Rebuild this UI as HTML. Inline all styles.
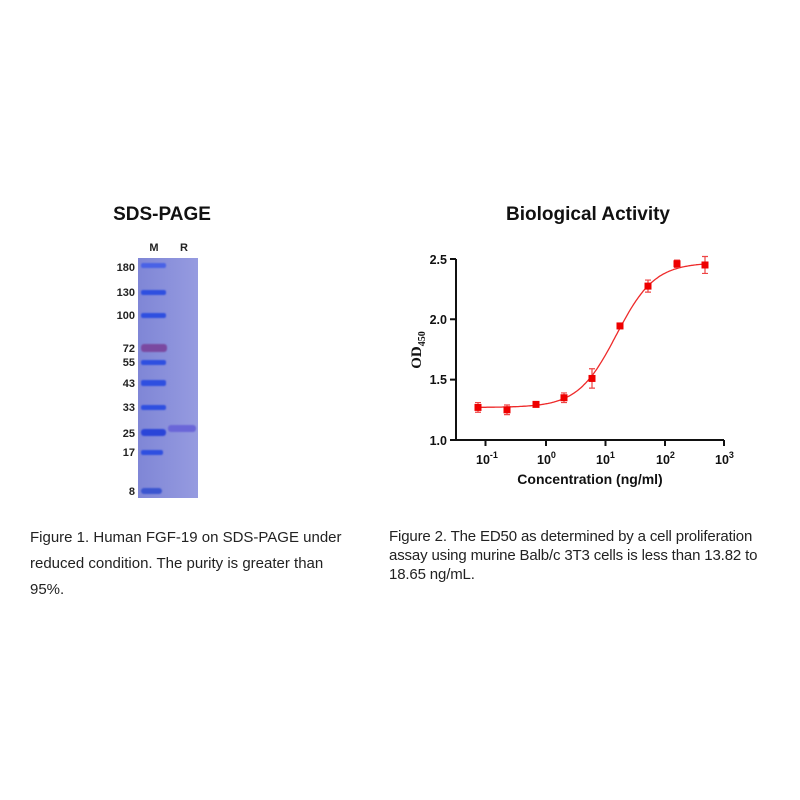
<!DOCTYPE html>
<html><head><style>
body{margin:0;width:800px;height:800px;background:#fff;position:relative;font-family:"Liberation Sans",sans-serif;overflow:hidden}
.t{position:absolute;font-weight:bold;font-size:19px;color:#111;text-align:center}
.cap{position:absolute;font-size:15px;color:#222;white-space:nowrap}
</style></head><body>
<div class="t" style="left:62px;top:204px;width:200px">SDS-PAGE</div>
<div class="t" style="left:468px;top:204px;width:240px">Biological Activity</div>
<svg width="800" height="800" style="position:absolute;left:0;top:0" font-family="Liberation Sans, sans-serif">
<defs><linearGradient id="g" x1="0" x2="1"><stop offset="0" stop-color="#7f86d6"/><stop offset="1" stop-color="#969be0"/></linearGradient>
<filter id="b"><feGaussianBlur stdDeviation="0.8"/></filter></defs>
<rect x="138" y="258" width="60" height="240" fill="url(#g)"/>
<g font-weight="bold" font-size="11" fill="#222" text-anchor="end">
<text x="154" y="251" text-anchor="middle">M</text><text x="184" y="251" text-anchor="middle">R</text>
<text x="135" y="271">180</text><text x="135" y="296">130</text><text x="135" y="319">100</text>
<text x="135" y="352">72</text><text x="135" y="366">55</text><text x="135" y="387">43</text>
<text x="135" y="411">33</text><text x="135" y="437">25</text><text x="135" y="456">17</text><text x="135" y="495">8</text>
</g>
<g fill="#2f4fe0" filter="url(#b)">
<rect x="141" y="263" width="25" height="5" rx="2" fill="#4a62e6"/><rect x="141" y="290" width="25" height="5" rx="2"/>
<rect x="141" y="313" width="25" height="5" rx="2"/><rect x="141" y="344" width="26" height="8" rx="3" fill="#7a4aa0"/>
<rect x="141" y="360" width="25" height="5" rx="2"/><rect x="141" y="380" width="25" height="6" rx="2"/>
<rect x="141" y="405" width="25" height="5" rx="2"/><rect x="141" y="429" width="25" height="7" rx="3" fill="#2a45d8"/>
<rect x="141" y="450" width="22" height="5" rx="2"/><rect x="141" y="488" width="21" height="6" rx="3" fill="#3a55d0"/>
<rect x="168" y="425" width="28" height="7" rx="3" fill="#6a66d8"/>
</g>
<g stroke="#111" stroke-width="2" fill="none">
<path d="M456 259V440H724"/>
<path d="M450 259H456M450 319.3H456M450 379.6H456M450 440H456"/>
<path d="M485.5 440V446M546 440V446M605.5 440V446M665 440V446M724 440V446"/>
</g>
<g font-size="12.5" font-weight="bold" fill="#111" text-anchor="end">
<text x="447" y="264">2.5</text><text x="447" y="324">2.0</text><text x="447" y="384">1.5</text><text x="447" y="445">1.0</text>
</g>
<g font-size="12.5" font-weight="bold" fill="#111">
<text x="476" y="464">10<tspan dy="-6" font-size="9">-1</tspan></text>
<text x="537" y="464">10<tspan dy="-6" font-size="9">0</tspan></text>
<text x="596" y="464">10<tspan dy="-6" font-size="9">1</tspan></text>
<text x="656" y="464">10<tspan dy="-6" font-size="9">2</tspan></text>
<text x="715" y="464">10<tspan dy="-6" font-size="9">3</tspan></text>
</g>
<text x="590" y="484" font-size="14" font-weight="bold" text-anchor="middle" fill="#111">Concentration (ng/ml)</text>
<text transform="translate(421 350) rotate(-90)" font-family="Liberation Serif, serif" font-weight="bold" font-size="15" text-anchor="middle" fill="#111">OD<tspan font-size="10" dy="4">450</tspan></text>
<path id="curve" fill="none" stroke="#ee2a2a" stroke-width="1.3"/>
<g id="pts" fill="#e00" stroke="#e44" stroke-width="1.2"></g>
</svg>
<script>
var X=function(l){return 546+l*59.6},Y=function(v){return 440-(v-1)*120.7};
var d="";for(var l=-1.15;l<=2.72;l+=0.02){var v=1.27+1.2/(1+Math.pow(10,(1.18-l)*1.35));d+=(d?"L":"M")+X(l).toFixed(1)+" "+Y(v).toFixed(1);}
document.getElementById("curve").setAttribute("d",d);
var P=[[478,1.27,.04],[507,1.25,.04],[536,1.295,.01],[564,1.35,.04],[592,1.51,.08],[620,1.945,.01],[648,2.275,.05],[677,2.46,.03],[705,2.45,.07]],s="";
P.forEach(function(p){var y=Y(p[1]),e=p[2]*120.7;s+='<path fill="none" d="M'+p[0]+' '+(y-e)+'V'+(y+e)+'M'+(p[0]-3)+' '+(y-e)+'h6M'+(p[0]-3)+' '+(y+e)+'h6"/><rect stroke="none" x="'+(p[0]-3.5)+'" y="'+(y-3.5)+'" width="7" height="7"/>';});
document.getElementById("pts").innerHTML=s;
</script>
<div class="cap" style="left:30px;top:525px;line-height:26px">Figure 1. Human FGF-19 on SDS-PAGE under<br>reduced condition. The purity is greater than<br>95%.</div>
<div class="cap" style="left:389px;top:527px;line-height:19px;letter-spacing:-0.15px">Figure 2. The ED50 as determined by a cell proliferation<br>assay using murine Balb/c 3T3 cells is less than 13.82 to<br>18.65 ng/mL.</div>
</body></html>
